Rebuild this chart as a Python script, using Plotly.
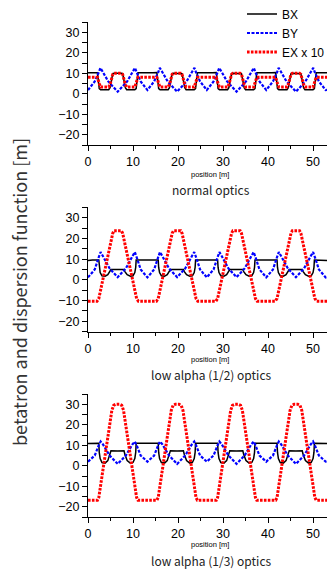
import plotly.graph_objects as go

# ---------------- data ----------------
# Panel 1: normal optics
pos_bx_n = [0, 1.2, 2.1, 2.5, 2.8, 4.6, 4.9, 5.5, 5.8, 7.4, 7.7, 8.3, 8.6, 10.4, 10.7, 11.1, 12.0,
            13.2, 14.4, 15.3, 15.7, 16.0, 17.8, 18.1, 18.7, 19.0, 20.6, 20.9, 21.5, 21.8, 23.6, 23.9, 24.3, 25.2,
            26.4, 27.6, 28.5, 28.9, 29.2, 31.0, 31.3, 31.9, 32.2, 33.8, 34.1, 34.7, 35.0, 36.8, 37.1, 37.5, 38.4,
            39.6, 40.8, 41.7, 42.1, 42.4, 44.2, 44.5, 45.1, 45.4, 47.0, 47.3, 47.9, 48.2, 50.0, 50.3, 50.7, 51.6,
            52.8, 53.1]
bx_n = [10.3, 10.2, 10.3, 2.5, 2.0, 2.0, 3.0, 9.8, 10.0, 10.0, 9.8, 3.0, 2.0, 2.0, 2.5, 10.3, 10.2,
        10.3, 10.2, 10.3, 2.5, 2.0, 2.0, 3.0, 9.8, 10.0, 10.0, 9.8, 3.0, 2.0, 2.0, 2.5, 10.3, 10.2,
        10.3, 10.2, 10.3, 2.5, 2.0, 2.0, 3.0, 9.8, 10.0, 10.0, 9.8, 3.0, 2.0, 2.0, 2.5, 10.3, 10.2,
        10.3, 10.2, 10.3, 2.5, 2.0, 2.0, 3.0, 9.8, 10.0, 10.0, 9.8, 3.0, 2.0, 2.0, 2.5, 10.3, 10.2,
        10.3, 10.3]

pos_by_n = [0, 1.5, 2.4, 2.75, 3.2, 4.5, 6.6, 8.7, 10.0, 10.45, 10.8, 11.7,
            13.2, 14.7, 15.6, 15.95, 16.4, 17.7, 19.8, 21.9, 23.2, 23.65, 24.0, 24.9,
            26.4, 27.9, 28.8, 29.15, 29.6, 30.9, 33.0, 35.1, 36.4, 36.85, 37.2, 38.1,
            39.6, 41.1, 42.0, 42.35, 42.8, 44.1, 46.2, 48.3, 49.6, 50.05, 50.4, 51.3,
            52.8, 53.1]
by_n = [1.8, 6.0, 10.5, 12.6, 11.0, 6.0, 1.0, 6.0, 11.0, 12.6, 10.5, 6.0,
        1.8, 6.0, 10.5, 12.6, 11.0, 6.0, 1.0, 6.0, 11.0, 12.6, 10.5, 6.0,
        1.8, 6.0, 10.5, 12.6, 11.0, 6.0, 1.0, 6.0, 11.0, 12.6, 10.5, 6.0,
        1.8, 6.0, 10.5, 12.6, 11.0, 6.0, 1.0, 6.0, 11.0, 12.6, 10.5, 6.0,
        1.8, 1.9]

pos_ex_n = [0, 2.1, 2.5, 2.8, 4.6, 4.9, 5.5, 5.8, 7.4, 7.7, 8.3, 8.6, 10.4, 10.7, 11.1,
            13.2, 15.3, 15.7, 16.0, 17.8, 18.1, 18.7, 19.0, 20.6, 20.9, 21.5, 21.8, 23.6, 23.9, 24.3,
            26.4, 28.5, 28.9, 29.2, 31.0, 31.3, 31.9, 32.2, 33.8, 34.1, 34.7, 35.0, 36.8, 37.1, 37.5,
            39.6, 41.7, 42.1, 42.4, 44.2, 44.5, 45.1, 45.4, 47.0, 47.3, 47.9, 48.2, 50.0, 50.3, 50.7,
            52.8, 53.1]
ex_n = [8.0, 8.0, 5.0, 3.3, 3.3, 4.5, 9.5, 10.0, 10.0, 9.5, 4.5, 3.3, 3.3, 5.0, 8.0,
        8.0, 8.0, 5.0, 3.3, 3.3, 4.5, 9.5, 10.0, 10.0, 9.5, 4.5, 3.3, 3.3, 5.0, 8.0,
        8.0, 8.0, 5.0, 3.3, 3.3, 4.5, 9.5, 10.0, 10.0, 9.5, 4.5, 3.3, 3.3, 5.0, 8.0,
        8.0, 8.0, 5.0, 3.3, 3.3, 4.5, 9.5, 10.0, 10.0, 9.5, 4.5, 3.3, 3.3, 5.0, 8.0,
        8.0, 8.0]

# Panels 2 and 3 share BX / BY sample positions
pos_bx_la = [0, 1.0, 2.4, 2.5, 2.7, 3.1, 3.8, 4.4, 4.9, 5.1, 6.6, 8.0, 8.2, 8.7, 9.4, 10.0, 10.4, 10.6, 10.7, 12.2,
             13.2, 14.2, 15.6, 15.7, 15.9, 16.3, 17.0, 17.6, 18.1, 18.3, 19.8, 21.2, 21.4, 21.9, 22.6, 23.2, 23.6, 23.8, 23.9, 25.4,
             26.4, 27.4, 28.8, 28.9, 29.1, 29.5, 30.2, 30.8, 31.3, 31.5, 33.0, 34.4, 34.6, 35.1, 35.8, 36.4, 36.8, 37.0, 37.1, 38.6,
             39.6, 40.6, 42.0, 42.1, 42.3, 42.7, 43.4, 44.0, 44.5, 44.7, 46.2, 47.6, 47.8, 48.3, 49.0, 49.6, 50.0, 50.2, 50.3, 51.8,
             52.8, 53.1]
pos_by_la = [0, 1.5, 2.4, 2.8, 3.3, 4.8, 6.6, 8.4, 9.9, 10.4, 10.8, 11.7,
             13.2, 14.7, 15.6, 16.0, 16.5, 18.0, 19.8, 21.6, 23.1, 23.6, 24.0, 24.9,
             26.4, 27.9, 28.8, 29.2, 29.7, 31.2, 33.0, 34.8, 36.3, 36.8, 37.2, 38.1,
             39.6, 41.1, 42.0, 42.4, 42.9, 44.4, 46.2, 48.0, 49.5, 50.0, 50.4, 51.3,
             52.8, 53.1]

# Panel 2: low alpha (1/2)
bx_h = [9.3, 9.6, 9.6, 6.0, 3.5, 2.0, 1.8, 2.5, 4.0, 5.0, 5.0, 5.0, 4.0, 2.5, 1.8, 2.0, 3.5, 6.0, 9.6, 9.6,
        9.3, 9.6, 9.6, 6.0, 3.5, 2.0, 1.8, 2.5, 4.0, 5.0, 5.0, 5.0, 4.0, 2.5, 1.8, 2.0, 3.5, 6.0, 9.6, 9.6,
        9.3, 9.6, 9.6, 6.0, 3.5, 2.0, 1.8, 2.5, 4.0, 5.0, 5.0, 5.0, 4.0, 2.5, 1.8, 2.0, 3.5, 6.0, 9.6, 9.6,
        9.3, 9.6, 9.6, 6.0, 3.5, 2.0, 1.8, 2.5, 4.0, 5.0, 5.0, 5.0, 4.0, 2.5, 1.8, 2.0, 3.5, 6.0, 9.6, 9.6,
        9.3, 9.3]
by_h = [1.2, 5.0, 11.0, 13.4, 11.5, 5.5, 1.3, 5.5, 11.5, 13.4, 11.0, 5.0,
        1.2, 5.0, 11.0, 13.4, 11.5, 5.5, 1.3, 5.5, 11.5, 13.4, 11.0, 5.0,
        1.2, 5.0, 11.0, 13.4, 11.5, 5.5, 1.3, 5.5, 11.5, 13.4, 11.0, 5.0,
        1.2, 5.0, 11.0, 13.4, 11.5, 5.5, 1.3, 5.5, 11.5, 13.4, 11.0, 5.0,
        1.2, 1.4]
pos_ex_h = [0, 2.0, 2.4, 5.5, 5.8, 7.4, 7.7, 10.8, 11.2,
            13.2, 15.2, 15.6, 18.7, 19.0, 20.6, 20.9, 24.0, 24.4,
            26.4, 28.4, 28.8, 31.9, 32.2, 33.8, 34.1, 37.2, 37.6,
            39.6, 41.6, 42.0, 45.1, 45.4, 47.0, 47.3, 50.4, 50.8,
            52.8, 53.1]
ex_h = [-10.3, -10.3, -9.0, 22.5, 23.7, 23.7, 22.5, -9.0, -10.3,
        -10.3, -10.3, -9.0, 22.5, 23.7, 23.7, 22.5, -9.0, -10.3,
        -10.3, -10.3, -9.0, 22.5, 23.7, 23.7, 22.5, -9.0, -10.3,
        -10.3, -10.3, -9.0, 22.5, 23.7, 23.7, 22.5, -9.0, -10.3,
        -10.3, -10.3]

# Panel 3: low alpha (1/3)
bx_t = [10.8, 11.0, 11.0, 6.5, 3.5, 1.6, 1.3, 2.5, 5.5, 7.3, 7.2, 7.3, 5.5, 2.5, 1.3, 1.6, 3.5, 6.5, 11.0, 11.0,
        10.8, 11.0, 11.0, 6.5, 3.5, 1.6, 1.3, 2.5, 5.5, 7.3, 7.2, 7.3, 5.5, 2.5, 1.3, 1.6, 3.5, 6.5, 11.0, 11.0,
        10.8, 11.0, 11.0, 6.5, 3.5, 1.6, 1.3, 2.5, 5.5, 7.3, 7.2, 7.3, 5.5, 2.5, 1.3, 1.6, 3.5, 6.5, 11.0, 11.0,
        10.8, 11.0, 11.0, 6.5, 3.5, 1.6, 1.3, 2.5, 5.5, 7.3, 7.2, 7.3, 5.5, 2.5, 1.3, 1.6, 3.5, 6.5, 11.0, 11.0,
        10.8, 10.8]
by_t = [2.0, 5.0, 10.0, 11.8, 10.5, 5.0, 0.9, 5.0, 10.5, 11.8, 10.0, 5.0,
        2.0, 5.0, 10.0, 11.8, 10.5, 5.0, 0.9, 5.0, 10.5, 11.8, 10.0, 5.0,
        2.0, 5.0, 10.0, 11.8, 10.5, 5.0, 0.9, 5.0, 10.5, 11.8, 10.0, 5.0,
        2.0, 5.0, 10.0, 11.8, 10.5, 5.0, 0.9, 5.0, 10.5, 11.8, 10.0, 5.0,
        2.0, 2.1]
pos_ex_t = [0, 2.1, 2.4, 5.3, 5.7, 6.2, 7.0, 7.5, 7.9, 10.8, 11.1,
            13.2, 15.3, 15.6, 18.5, 18.9, 19.4, 20.2, 20.7, 21.1, 24.0, 24.3,
            26.4, 28.5, 28.8, 31.7, 32.1, 32.6, 33.4, 33.9, 34.3, 37.2, 37.5,
            39.6, 41.7, 42.0, 44.9, 45.3, 45.8, 46.6, 47.1, 47.5, 50.4, 50.7,
            52.8, 53.1]
ex_t = [-16.8, -16.8, -15.5, 27.0, 29.5, 30.0, 30.0, 29.5, 27.0, -15.5, -16.8,
        -16.8, -16.8, -15.5, 27.0, 29.5, 30.0, 30.0, 29.5, 27.0, -15.5, -16.8,
        -16.8, -16.8, -15.5, 27.0, 29.5, 30.0, 30.0, 29.5, 27.0, -15.5, -16.8,
        -16.8, -16.8, -15.5, 27.0, 29.5, 30.0, 30.0, 29.5, 27.0, -15.5, -16.8,
        -16.8, -16.8]

series_names = ["BX", "BY", "EX x 10"]
captions = ["normal optics", "low alpha (1/2) optics", "low alpha (1/3) optics"]
x_ticks = [0, 10, 20, 30, 40, 50]
y_ticks = [-20, -10, 0, 10, 20, 30]

panels = [
    (pos_bx_n, bx_n, pos_by_n, by_n, pos_ex_n, ex_n),
    (pos_bx_la, bx_h, pos_by_la, by_h, pos_ex_h, ex_h),
    (pos_bx_la, bx_t, pos_by_la, by_t, pos_ex_t, ex_t),
]

# ---------------- figure ----------------
W, H = 330, 569
ML, MR, MT, MB = 88, 3, 22, 52
PH = H - MT - MB


def py(px):
    return (H - MB - px) / PH


def pxx(px):
    return (px - ML) / (W - ML - MR)


domains = [[py(145), 1.0], [py(331.7), py(207.3)], [0.0, py(394)]]

styles = [
    dict(color="black", width=1.5),
    dict(color="#0000ff", width=2.2, dash="3px,1.5px"),
    dict(color="#ff0000", width=3, dash="2.6px,1.3px"),
]

fig = go.Figure()
for i, p in enumerate(panels):
    ax = "" if i == 0 else str(i + 1)
    for j in range(3):
        fig.add_trace(go.Scatter(
            x=p[2 * j], y=p[2 * j + 1], mode="lines", name=series_names[j],
            line=styles[j], showlegend=(i == 0),
            xaxis="x" + ax, yaxis="y" + ax, legendrank=j + 1))

axis_font = dict(family="Liberation Sans, Arial, sans-serif", size=12.5, color="black")
layout = dict(
    width=W, height=H,
    margin=dict(l=ML, r=MR, t=MT, b=MB, pad=0, autoexpand=False),
    paper_bgcolor="white", plot_bgcolor="white",
    font=dict(family="Liberation Sans, Arial, sans-serif", color="black"),
    showlegend=True,
    legend=dict(xref="paper", yref="paper", x=pxx(242), y=py(-0.5),
                xanchor="left", yanchor="top", bgcolor="rgba(0,0,0,0)",
                font=dict(family="Liberation Sans, Arial, sans-serif", size=12, color="black"),
                tracegroupgap=0, itemwidth=30),
)
for i in range(3):
    ax = "" if i == 0 else str(i + 1)
    layout["xaxis" + ax] = dict(
        domain=[0, 1], range=[0, 53.1], anchor="y" + ax,
        showline=True, linecolor="black", linewidth=1,
        ticks="outside", ticklen=5, tickwidth=1, tickcolor="black",
        tickvals=x_ticks, showgrid=False, zeroline=False, tickfont=axis_font,
        automargin=False,
        minor=dict(tickvals=[5, 15, 25, 35, 45], ticks="outside", ticklen=3, tickcolor="black"),
    )
    layout["yaxis" + ax] = dict(
        domain=domains[i], range=[-25, 35], anchor="x" + ax,
        showline=True, linecolor="black", linewidth=1,
        ticks="outside", ticklen=5, tickwidth=1, tickcolor="black",
        tickvals=y_ticks, showgrid=False, zeroline=False, tickfont=axis_font,
        automargin=False,
        minor=dict(tickvals=[-25, -15, -5, 5, 15, 25, 35], ticks="outside", ticklen=5, tickcolor="black"),
    )
fig.update_layout(**layout)

title_pos = [174.3, 359.3, 544.3]
cap_pos = [189.5, 375, 560.5]
ann = []
for i in range(3):
    ann.append(dict(text="position [m]", xref="paper", yref="paper", x=pxx(210), y=py(title_pos[i]),
                    xanchor="center", yanchor="middle", showarrow=False,
                    font=dict(family="Liberation Sans, Arial, sans-serif", size=7.5, color="black")))
    ann.append(dict(text=captions[i], xref="paper", yref="paper", x=pxx(211), y=py(cap_pos[i]),
                    xanchor="center", yanchor="middle", showarrow=False,
                    font=dict(family="Noto Sans CJK JP, Noto Sans, sans-serif", size=12, color="#222222")))
ann.append(dict(text="betatron and dispersion function [m]", xref="paper", yref="paper",
                x=pxx(19), y=py(292), textangle=-90, xanchor="center", yanchor="middle",
                showarrow=False,
                font=dict(family="Noto Sans CJK JP, Noto Sans, sans-serif", size=18, color="#333333")))
fig.update_layout(annotations=ann)

fig.write_html("out.html", config={"displayModeBar": False},
               post_script="document.body.style.margin='0';document.body.style.padding='0';"
                           "document.documentElement.style.overflow='hidden';")
